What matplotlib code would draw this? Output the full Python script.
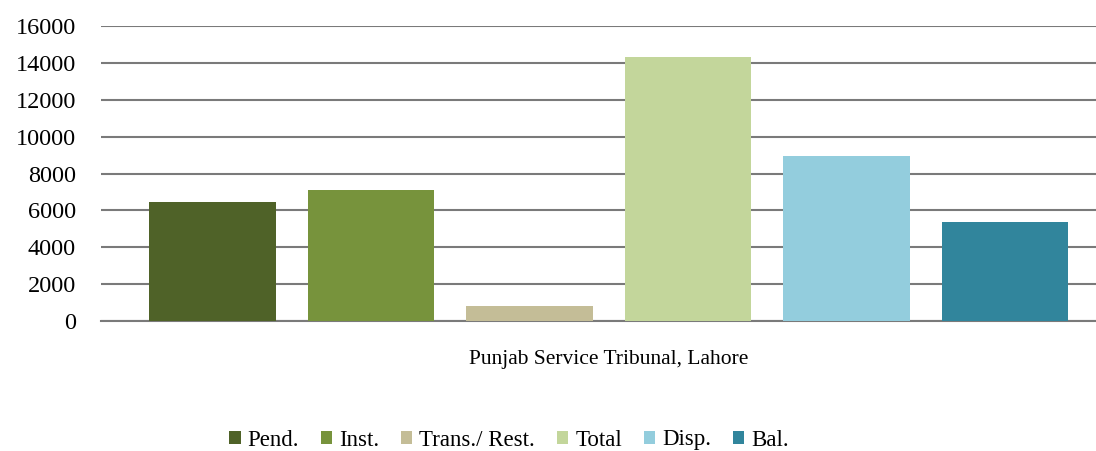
import numpy as np
import matplotlib.pyplot as plt

# data
category = "Punjab Service Tribunal, Lahore"
series = ["Pend.", "Inst.", "Trans./ Rest.", "Total", "Disp.", "Bal."]
values = [6450, 7100, 810, 14300, 8950, 5370]
colors = ["#4F6228", "#77933C", "#C4BD97", "#C3D69B", "#93CDDD", "#31859C"]
yticks = [0, 2000, 4000, 6000, 8000, 10000, 12000, 14000, 16000]

plt.rcParams['font.family'] = ['Liberation Serif', 'DejaVu Serif']

fig = plt.figure(figsize=(10.96, 4.51), dpi=100)
ax = fig.add_axes([101 / 1096, 1 - 321 / 451, (1096 - 101) / 1096, 295 / 451])

pos = np.arange(len(series))
width = 0.80
for i, (name, v, c) in enumerate(zip(series, values, colors)):
    ax.bar(pos[i], v, width=width, color=c, label=name, zorder=3)

ax.set_ylim(0, 16000)
ax.set_xlim(-0.703, 5.574)
ax.set_yticks(yticks)
ax.set_yticklabels([str(t) for t in yticks], fontsize=17.5)
ax.yaxis.grid(True, color="#7a7a7a", linewidth=1.5, zorder=0)
ax.tick_params(axis='y', length=0, pad=18)
ax.set_xticks([2.5])
ax.set_xticklabels([category], fontsize=15.5)
ax.tick_params(axis='x', length=0, pad=21)
for s in ['left', 'right', 'top']:
    ax.spines[s].set_visible(False)
ax.spines['bottom'].set_color("#7a7a7a")
ax.spines['bottom'].set_linewidth(1.5)

ax.legend(loc='center', bbox_to_anchor=(509 / 1096, 1 - 440 / 451),
          bbox_transform=fig.transFigure, ncol=6, frameon=False,
          fontsize=16.5, handlelength=0.5, handleheight=0.5,
          handletextpad=0.3, columnspacing=0.95)

fig.savefig("out.png", dpi=100)
